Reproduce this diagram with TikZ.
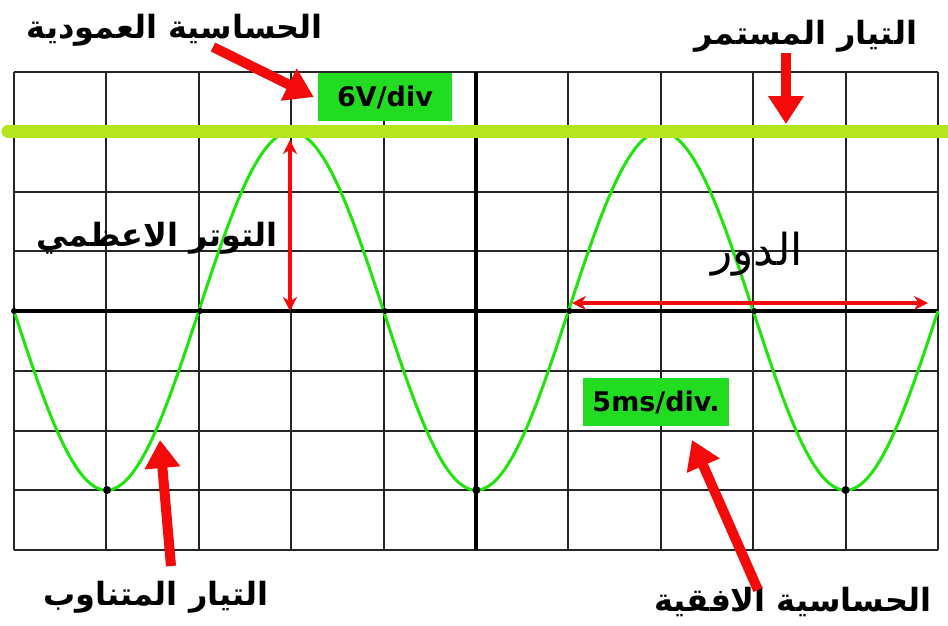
\documentclass[tikz,border=0pt]{standalone}
\usepackage{fontspec}
\usetikzlibrary{arrows.meta, positioning, calc}
\setmainfont{DejaVu Sans}
\newfontfamily\arabicfont[Script=Arabic]{DejaVu Sans}
\TeXXeTstate=1
\definecolor{dcgreen}{RGB}{181,230,29}
\definecolor{wavegreen}{RGB}{30,230,10}
\definecolor{boxgreen}{RGB}{34,220,34}
\definecolor{arrowred}{RGB}{245,10,10}

\begin{document}
\begin{tikzpicture}[
    x=1pt, y=-1pt,
    gridline/.style={black!85, line width=2pt},
    axisline/.style={black, line width=3.5pt},
    wave/.style={wavegreen, line width=3pt},
    dcline/.style={dcgreen, line width=13pt, line cap=round},
    pointer/.style={arrowred, line width=10pt, -{Triangle[width=34pt, length=28pt]}},
    span/.style={arrowred, line width=4pt, {Stealth[width=14pt, length=14pt]}-{Stealth[width=14pt, length=14pt]}},
    label/.style={font=\arabicfont\bfseries\fontsize{32}{34}\selectfont, inner sep=0pt},
    scalebox/.style={fill=boxgreen, font=\bfseries\fontsize{27}{29}\selectfont, inner sep=0pt, minimum height=48pt}]
\useasboundingbox (0,0) rectangle (948,625);
\fill[white] (0,0) rectangle (948,625);
% grid of the screen
\foreach \i in {0,...,10}
    \draw[gridline] ({14+92.4*\i},72) -- ({14+92.4*\i},550);
\foreach \j in {0,...,8}
    \draw[gridline] (14,{72+59.75*\j}) -- (938,{72+59.75*\j});
\draw[axisline] (476,72) -- (476,550);
\draw[axisline] (14,311) -- (938,311);
% signal
\draw[wave] plot[domain=14:938, samples=240] (\x, {311+179.25*sin(0.97403*(\x-14))});
\foreach \px in {107.1,476.4,845.6}
    \fill[black] (\px,490) circle (4pt);
\foreach \px in {14,200,384.8,569.6,754.4}
    \fill[black] (\px,311) circle (3pt);
\draw[dcline] (8,131) -- (948,131);
% labels
\node[scalebox, minimum width=134pt] (vbox) at (385,97) {6V/div};
\node[scalebox, minimum width=146pt] (hbox) at (656,402) {5ms/div.};
\node[label] (vert) at (175,30) {\beginR الحساسية العمودية\endR};
\node[label] (dc) at (806,36) {\beginR التيار المستمر\endR};
\node[label] (amp) at (157,238) {\beginR التوتر الاعظمي\endR};
\node[label, font=\arabicfont\fontsize{44}{46}\selectfont] (period) at (757,254) {\beginR الدور\endR};
\node[label] (ac) at (156,597) {\beginR التيار المتناوب\endR};
\node[label] (hor) at (793,602) {\beginR الحساسية الافقية\endR};
\coordinate (vtail) at (213,47);
\coordinate (dctail) at (786,53);
\coordinate (dctip) at (786,124);
\coordinate (actail) at (171,566);
\coordinate (actip) at (160,440);
\coordinate (htail) at (758,590);
\coordinate (htip) at (692,440);
\coordinate (amptop) at (290,140);
\coordinate (ampbot) at (290,311);
\coordinate (perleft) at (572,303);
\coordinate (perright) at (928,303);
% arrows
\draw[pointer] (vtail) -- ($(vbox.west)+(-4,0)$);
\draw[pointer] (dctail) -- (dctip);
\draw[pointer] (actail) -- (actip);
\draw[pointer] (htail) -- (htip);
\draw[span] (amptop) -- (ampbot);
\draw[span] (perleft) -- (perright);
\end{tikzpicture}
\end{document}
